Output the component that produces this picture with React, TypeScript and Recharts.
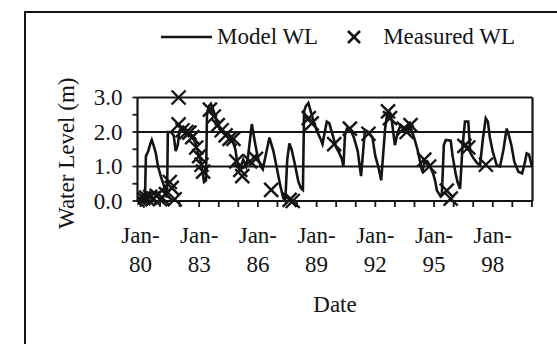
import React from 'react';
import {
  ComposedChart,
  Line,
  Scatter,
  XAxis,
  YAxis,
  CartesianGrid,
  ReferenceLine,
} from 'recharts';

// model water level, decimal year / metres
const modelYears = [
  1979.86, 1980.0, 1980.2, 1980.24, 1980.28, 1980.4, 1980.5, 1980.58, 1980.68, 1980.78,
  1980.9, 1981.05, 1981.2, 1981.3, 1981.36, 1981.4, 1981.55, 1981.7, 1981.8, 1981.9,
  1982.0, 1982.2, 1982.4, 1982.6, 1982.8, 1982.95, 1983.1, 1983.25, 1983.35, 1983.4,
  1983.5, 1983.6, 1983.75, 1983.9, 1984.1, 1984.3, 1984.5, 1984.7, 1984.85, 1984.95,
  1985.1, 1985.25, 1985.4, 1985.5, 1985.69, 1985.85, 1986.0, 1986.15, 1986.25, 1986.59,
  1986.8, 1986.97, 1987.14, 1987.3, 1987.4, 1987.5, 1987.61, 1987.73, 1987.9, 1988.07,
  1988.2, 1988.3, 1988.36, 1988.45, 1988.58, 1988.7, 1988.85, 1989.0, 1989.2, 1989.3,
  1989.52, 1989.65, 1989.85, 1990.0, 1990.15, 1990.3, 1990.37, 1990.45, 1990.55, 1990.7,
  1990.9, 1991.1, 1991.27, 1991.47, 1991.65, 1991.85, 1992.0, 1992.15, 1992.3, 1992.5,
  1992.6, 1992.75, 1992.85, 1993.0, 1993.15, 1993.3, 1993.5, 1993.7, 1993.85, 1994.0,
  1994.15, 1994.3, 1994.4, 1994.5, 1994.65, 1994.8, 1994.95, 1995.05, 1995.15, 1995.3,
  1995.4, 1995.5, 1995.6, 1995.85, 1995.95, 1996.1, 1996.2, 1996.33, 1996.45, 1996.58,
  1996.75, 1996.85, 1997.0, 1997.2, 1997.35, 1997.5, 1997.64, 1997.75, 1997.85, 1998.0,
  1998.2, 1998.37, 1998.55, 1998.71, 1998.8, 1998.95, 1999.1, 1999.31, 1999.5, 1999.65,
  1999.73, 1999.85, 2000.0,
];
const modelLevels = [
  0.02, 0.02, 0.05, 0.3, 1.3, 1.45, 1.65, 1.77, 1.6, 1.4,
  1.0, 0.7, 0.45, 0.2, 0.1, 2.0, 2.0, 1.9, 1.45, 1.6,
  2.05, 2.1, 2.0, 1.9, 1.7, 1.4, 1.1, 0.55, 0.6, 2.5,
  2.75, 2.82, 2.6, 2.3, 2.1, 1.95, 1.85, 1.75, 1.5, 1.1,
  0.95, 1.2, 1.0, 1.3, 2.23, 1.7, 1.25, 1.0, 0.92, 1.84,
  1.43, 0.95, 0.46, 0.08, 0.0, 1.2, 1.67, 1.48, 1.04, 0.56,
  0.37, 0.32, 2.6, 2.75, 2.84, 2.6, 2.3, 2.05, 1.8, 1.65,
  2.3, 2.25, 1.85, 1.55, 1.4, 1.2, 1.0, 1.9, 2.1, 2.1,
  1.85, 1.45, 0.72, 2.06, 2.0, 1.85, 1.3, 1.0, 0.6, 2.1,
  2.5, 2.55, 2.3, 1.62, 2.0, 2.2, 2.1, 2.15, 2.05, 1.8,
  1.5, 1.1, 0.85, 1.1, 1.15, 1.0, 0.8, 0.6, 0.3, 0.17,
  0.2, 1.62, 1.77, 1.75, 1.3, 0.8, 0.55, 0.35, 1.55, 2.3,
  2.3, 1.4, 1.25, 1.1, 1.04, 1.82, 2.4, 2.3, 1.85, 1.43,
  1.04, 1.0, 1.5, 2.1, 1.95, 1.62, 1.14, 0.85, 0.8, 1.14,
  1.38, 1.35, 1.0,
];

// measured water level
const measuredYears = [
  1979.86, 1980.0, 1980.15, 1980.3, 1980.5, 1980.65, 1980.83, 1981.0, 1981.1, 1981.3,
  1981.5, 1981.6, 1981.75, 1981.95, 1981.95, 1982.15, 1982.35, 1982.5, 1982.65, 1982.85,
  1983.0, 1983.12, 1983.2, 1983.55, 1983.75, 1983.95, 1984.15, 1984.35, 1984.55, 1984.75,
  1984.9, 1985.1, 1985.2, 1985.6, 1985.9, 1986.68, 1987.62, 1987.78, 1988.6, 1988.75,
  1989.9, 1990.7, 1991.65, 1992.65, 1992.75, 1993.45, 1993.6, 1993.8, 1994.5, 1994.75,
  1995.65, 1995.85, 1996.55, 1996.75, 1997.65,
];
const measuredLevels = [
  0.02, 0.05, 0.08, 0.1, 0.12, 0.08, 0.15, 0.05, 0.1, 0.2,
  0.55, 0.38, 0.05, 3.0, 2.22, 2.05, 2.0, 1.98, 1.85, 1.55,
  1.3, 1.05, 0.85, 2.65, 2.45, 2.2, 2.05, 1.9, 1.8, 1.8,
  1.15, 0.9, 0.72, 1.15, 1.22, 0.32, 0.03, 0.0, 2.4, 2.25,
  1.65, 2.1, 1.95, 2.6, 2.4, 2.1, 2.0, 2.2, 1.2, 1.0,
  0.3, 0.07, 1.6, 1.55, 1.05,
];

const yearTicks = [
  1980, 1981, 1982, 1983, 1984, 1985, 1986, 1987, 1988, 1989, 1990,
  1991, 1992, 1993, 1994, 1995, 1996, 1997, 1998, 1999, 2000,
];
const labelYears = [1980, 1983, 1986, 1989, 1992, 1995, 1998];
const levelTicks = [0, 0.5, 1, 1.5, 2, 2.5, 3];
const gridLevels = [1, 2, 3];

const X_MIN = 1979.85;
const X_MAX = 2000.03;
const INK = '#141414';
const FONT = '"Liberation Serif", "Times New Roman", serif';
const FS = 23;

const modelData = modelYears.map((t, i) => ({ t, model: modelLevels[i] }));
const measuredData = measuredYears.map((t, i) => ({ t, measured: measuredLevels[i] }));

const Cross = ({ cx, cy }: any) => {
  if (cx == null || cy == null) return null;
  const r = 7;
  return (
    <g stroke={INK} strokeWidth={2.4}>
      <line x1={cx - r} y1={cy - r} x2={cx + r} y2={cy + r} />
      <line x1={cx - r} y1={cy + r} x2={cx + r} y2={cy - r} />
    </g>
  );
};

const DateTick = ({ x, y, payload }: any) => {
  const yr = payload.value;
  if (!labelYears.includes(yr)) return null;
  const short = String(yr).slice(2);
  return (
    <g fontFamily={FONT} fontSize={FS} fill={INK}>
      <text x={x} y={y + 26} textAnchor="middle" dominantBaseline="central">Jan-</text>
      <text x={x} y={y + 55} textAnchor="middle" dominantBaseline="central">{short}</text>
    </g>
  );
};

const LevelTick = ({ x, y, payload }: any) => {
  const v = payload.value;
  if (v % 1 !== 0) return null;
  return (
    <text x={x} y={y} textAnchor="end" dominantBaseline="central" fontFamily={FONT} fontSize={FS} fill={INK}>
      {v.toFixed(1)}
    </text>
  );
};

export default function App() {
  return (
    <div style={{ position: 'relative', width: 557, height: 344, overflow: 'hidden', background: '#fff' }}>
      <style>{'body{margin:0}'}</style>
      {/* outer frame, only left/top edges are in view */}
      <div
        style={{
          position: 'absolute',
          left: 24,
          top: 11,
          width: 600,
          height: 400,
          borderLeft: `2px solid ${INK}`,
          borderTop: `2px solid ${INK}`,
        }}
      />

      {/* legend */}
      <div
        style={{
          position: 'absolute',
          left: 161,
          top: 22,
          height: 30,
          display: 'flex',
          alignItems: 'center',
          fontFamily: FONT,
          fontSize: FS,
          color: INK,
          whiteSpace: 'nowrap',
        }}
      >
        <svg width={52} height={10}>
          <line x1={0} y1={5} x2={51} y2={5} stroke={INK} strokeWidth={2.4} />
        </svg>
        <span style={{ marginLeft: 4 }}>Model WL</span>
        <svg width={16} height={16} style={{ marginLeft: 28 }}>
          <line x1={2} y1={2} x2={14} y2={14} stroke={INK} strokeWidth={2.6} />
          <line x1={2} y1={14} x2={14} y2={2} stroke={INK} strokeWidth={2.6} />
        </svg>
        <span style={{ marginLeft: 21 }}>Measured WL</span>
      </div>

      <div style={{ position: 'absolute', left: 0, top: 0 }}>
        <ComposedChart
          width={557}
          height={344}
          margin={{ top: 97.5, right: 24.5, bottom: 0, left: 0 }}
        >
          <CartesianGrid horizontal vertical={false} horizontalValues={gridLevels} stroke={INK} strokeWidth={1.8} />
          <XAxis
            type="number"
            dataKey="t"
            domain={[X_MIN, X_MAX]}
            ticks={yearTicks}
            interval={0}
            allowDataOverflow
            height={143}
            axisLine={{ stroke: INK, strokeWidth: 2.2 }}
            tickLine={{ stroke: INK, strokeWidth: 1.8 }}
            tickSize={6}
            tick={<DateTick />}
            label={{
              content: ({ viewBox }: any) => (
                <text
                  x={viewBox.x + viewBox.width / 2}
                  y={viewBox.y + 103}
                  textAnchor="middle"
                  dominantBaseline="central"
                  fontFamily={FONT}
                  fontSize={FS}
                  fill={INK}
                >
                  Date
                </text>
              ),
            }}
          />
          <YAxis
            type="number"
            domain={[0, 3]}
            ticks={levelTicks}
            interval={0}
            width={137.5}
            axisLine={{ stroke: INK, strokeWidth: 2.2 }}
            tickLine={{ stroke: INK, strokeWidth: 1.8 }}
            tickSize={5}
            tickMargin={10}
            tick={<LevelTick />}
            label={{
              content: ({ viewBox }: any) => {
                const lx = viewBox.x + 66;
                const ly = viewBox.y + viewBox.height / 2 + 4;
                return (
                  <text
                    x={lx}
                    y={ly}
                    transform={`rotate(-90 ${lx} ${ly})`}
                    textAnchor="middle"
                    dominantBaseline="central"
                    fontFamily={FONT}
                    fontSize={FS}
                    fill={INK}
                  >
                    Water Level (m)
                  </text>
                );
              },
            }}
          />
          <ReferenceLine x={X_MAX} stroke={INK} strokeWidth={2.2} />
          <Line
            data={modelData}
            dataKey="model"
            type="linear"
            stroke={INK}
            strokeWidth={2.6}
            dot={false}
            activeDot={false}
            isAnimationActive={false}
          />
          <Scatter
            data={measuredData}
            dataKey="measured"
            shape={<Cross />}
            isAnimationActive={false}
          />
        </ComposedChart>
      </div>
    </div>
  );
}
